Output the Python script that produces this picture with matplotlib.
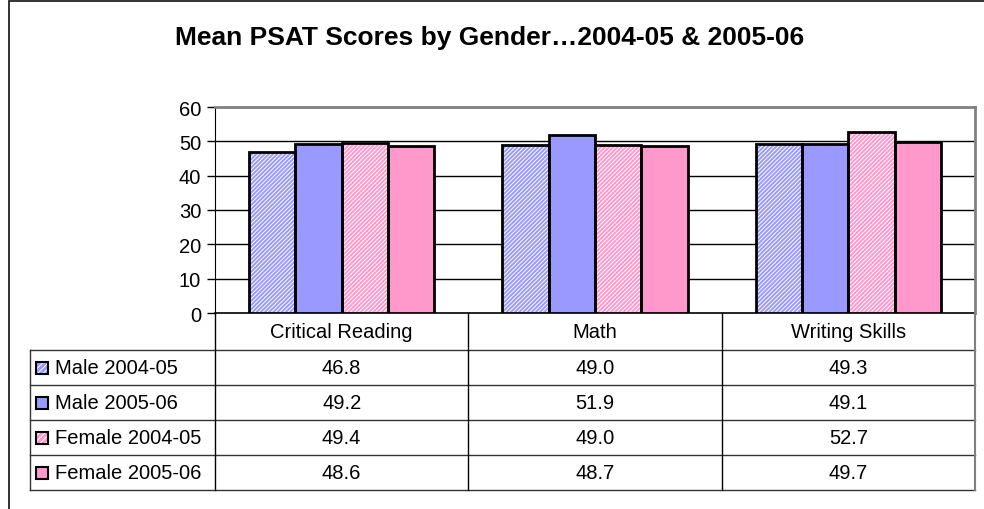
import numpy as np
import matplotlib
matplotlib.use("Agg")
import matplotlib.pyplot as plt
from matplotlib.patches import Rectangle
from matplotlib.lines import Line2D

plt.rcParams['font.family'] = ['Liberation Sans', 'DejaVu Sans']
plt.rcParams['hatch.linewidth'] = 0.7

# data
categories = ["Critical Reading", "Math", "Writing Skills"]
series_names = ["Male 2004-05", "Male 2005-06", "Female 2004-05", "Female 2005-06"]
male_0405 = [46.8, 49.0, 49.3]
male_0506 = [49.2, 51.9, 49.1]
female_0405 = [49.4, 49.0, 52.7]
female_0506 = [48.6, 48.7, 49.7]
yticks = [0, 10, 20, 30, 40, 50, 60]

series = [male_0405, male_0506, female_0405, female_0506]
colors = ["#9999FF", "#9999FF", "#FF99CC", "#FF99CC"]
hatched = [True, False, True, False]
FS = 14.5

W, H = 984, 510
fig = plt.figure(figsize=(W / 100, H / 100), dpi=100)

def fx(px):
    return px / W

def fy(py):
    return 1 - py / H

# outer chart border (only left/top visible)
fig.add_artist(Rectangle((fx(9), fy(600)), fx(1100), fy(2) - fy(600),
                         transform=fig.transFigure, fill=False,
                         edgecolor="#222222", linewidth=1.3))

left, right, top, bottom = 215, 975, 108, 314
ax = fig.add_axes([fx(left), fy(bottom), fx(right - left), fy(top) - fy(bottom)])

x = np.arange(len(categories))
bw = 0.183
for i, vals in enumerate(series):
    pos = x + (i - 1.5) * bw
    if hatched[i]:
        ax.bar(pos, vals, bw, color=colors[i], edgecolor="white",
               hatch="////////", linewidth=0, zorder=3)
    else:
        ax.bar(pos, vals, bw, color=colors[i], linewidth=0, zorder=3)
    ax.bar(pos, vals, bw, fill=False, edgecolor="black", linewidth=2, zorder=4)

ax.set_xlim(-0.5, len(categories) - 0.5)
ax.set_ylim(0, 60)
ax.set_yticks(yticks)
ax.set_yticklabels([str(t) for t in yticks], fontsize=FS)
ax.set_xticks([])
ax.tick_params(axis="y", length=6, width=1, pad=4)
for t in yticks[1:-1]:
    ax.axhline(t, color="black", linewidth=1, zorder=1)
ax.spines["left"].set_color("black")
ax.spines["bottom"].set_color("black")
ax.spines["bottom"].set_linewidth(1.2)
ax.spines["top"].set_color("#808080")
ax.spines["right"].set_color("#808080")
ax.spines["top"].set_linewidth(2)
ax.spines["right"].set_linewidth(2)

fig.text(fx(490), fy(38), "Mean PSAT Scores by Gender\u20262004-05 & 2005-06",
         ha="center", va="center", fontsize=19, fontweight="bold")

# data table below the plot
col_edges = [left + (right - left) * k / len(categories) for k in range(len(categories) + 1)]
row_edges = [351, 386, 421, 456, 491]
tab_left = 30

def hline(x0, x1, y, color="#333333", lw=1):
    fig.add_artist(Line2D([fx(x0), fx(x1)], [fy(y), fy(y)], transform=fig.transFigure,
                          color=color, linewidth=lw))

def vline(xp, y0, y1, color="black", lw=1):
    fig.add_artist(Line2D([fx(xp), fx(xp)], [fy(y0), fy(y1)], transform=fig.transFigure,
                          color=color, linewidth=lw))

for k, c in enumerate(categories):
    cx = (col_edges[k] + col_edges[k + 1]) / 2
    fig.text(fx(cx), fy(333), c, ha="center", va="center", fontsize=FS)

for r in row_edges:
    hline(tab_left, right, r)
vline(tab_left, row_edges[0], row_edges[-1], color="#333333")
for k, xe in enumerate(col_edges):
    col = "#808080" if k == len(col_edges) - 1 else "black"
    vline(xe, bottom, row_edges[-1], color=col, lw=1.5 if k == len(col_edges) - 1 else 1)

for i, (name, vals) in enumerate(zip(series_names, series)):
    cy = (row_edges[i] + row_edges[i + 1]) / 2
    key = Rectangle((fx(36), fy(cy + 6)), fx(12), fy(cy - 6) - fy(cy + 6),
                    transform=fig.transFigure, facecolor=colors[i],
                    edgecolor="white" if hatched[i] else colors[i],
                    hatch="//////" if hatched[i] else None, linewidth=0)
    fig.add_artist(key)
    fig.add_artist(Rectangle((fx(36), fy(cy + 6)), fx(12), fy(cy - 6) - fy(cy + 6),
                             transform=fig.transFigure, fill=False,
                             edgecolor="black", linewidth=1.5))
    fig.text(fx(55), fy(cy), name, ha="left", va="center", fontsize=FS)
    for k, v in enumerate(vals):
        cx = (col_edges[k] + col_edges[k + 1]) / 2
        fig.text(fx(cx), fy(cy), f"{v:.1f}", ha="center", va="center", fontsize=FS)

fig.savefig("out.png", dpi=100)
